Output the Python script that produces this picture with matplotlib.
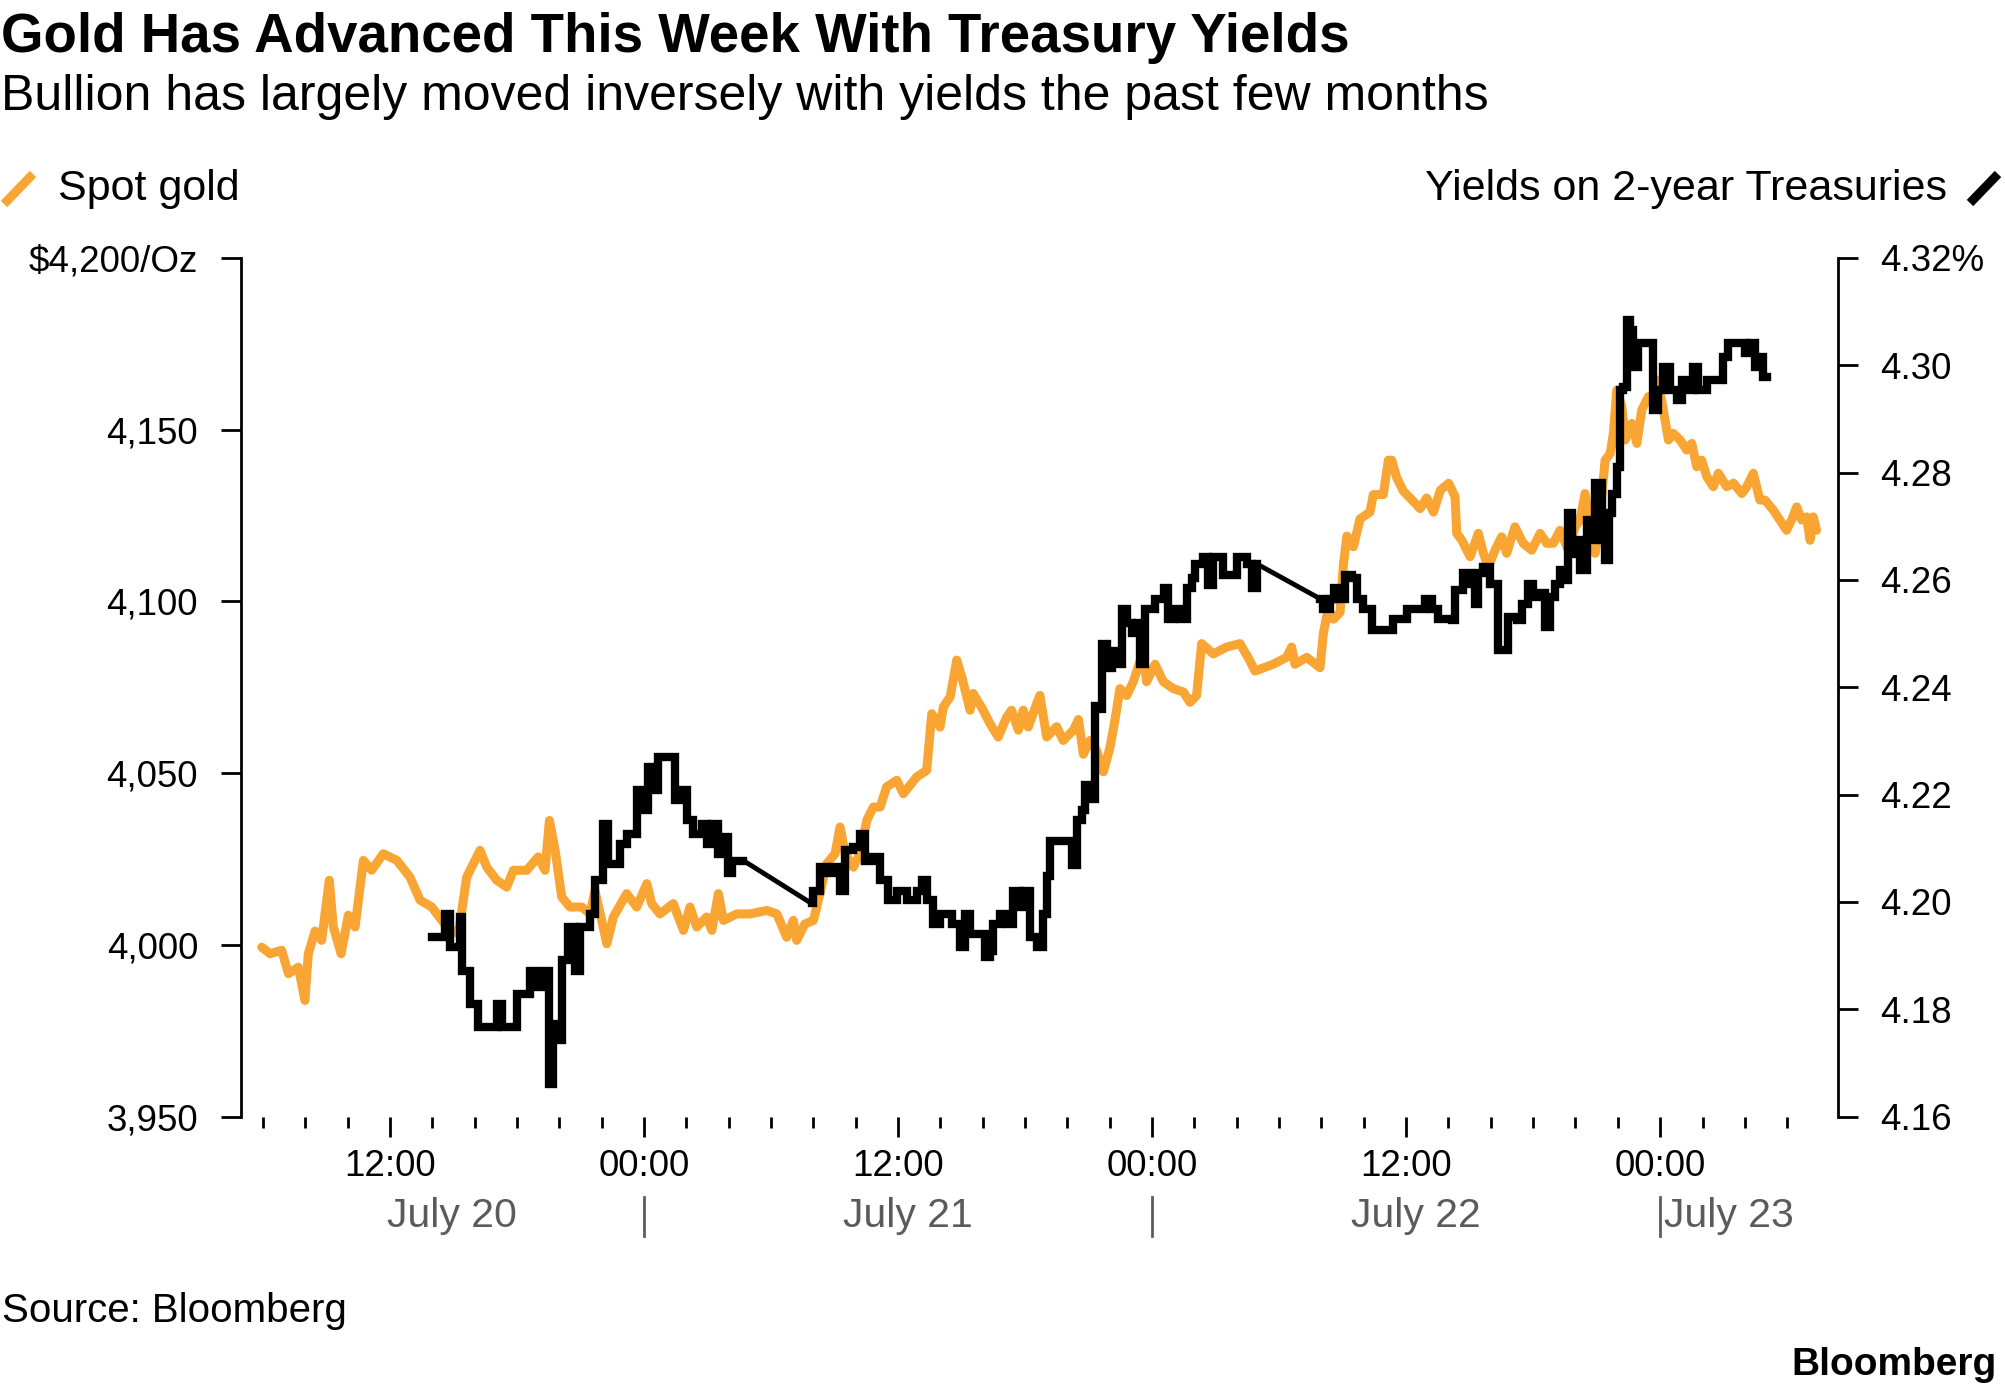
import numpy as np
import matplotlib
matplotlib.use("Agg")
import matplotlib.pyplot as plt
import matplotlib.transforms as mtransforms
from matplotlib.lines import Line2D
from matplotlib.ticker import FixedLocator, FuncFormatter

plt.rcParams['font.family'] = ['Liberation Sans', 'DejaVu Sans']

# x values are hours since July 20, 00:00
gold_hours = [
    5.94, 6.33, 6.88, 7.20, 7.67, 7.98, 8.14, 8.46, 8.77, 9.13, 9.32, 9.69,
    10.03, 10.35, 10.74, 11.13, 11.68, 12.32, 12.94, 13.42, 13.97, 14.68,
    15.23, 15.62, 16.25, 16.57, 17.04, 17.51, 17.83, 18.46, 19.00, 19.32,
    19.53, 19.80, 20.11, 20.50, 21.06, 21.45, 21.68, 22.00, 22.24, 22.55,
    23.18, 23.65, 24.13, 24.36, 24.75, 25.38, 25.86, 26.17, 26.49, 26.96,
    27.20, 27.51, 27.75, 28.38, 29.01, 29.80, 30.27, 30.74, 31.05, 31.21,
    31.60, 32.00, 32.31, 32.63, 33.02, 33.26, 33.50, 33.89, 34.20, 34.52,
    34.83, 35.15, 35.46, 35.94, 36.25, 36.88, 37.35, 37.59, 37.98, 38.14,
    38.46, 38.77, 39.01, 39.40, 39.55, 40.02, 40.34, 40.73, 41.13, 41.36,
    41.68, 41.91, 42.15, 42.55, 42.70, 43.02, 43.49, 43.80, 44.28, 44.52,
    44.75, 45.07, 45.38, 45.70, 46.01, 46.25, 46.48, 46.80, 47.11, 47.43,
    47.58, 47.74, 48.14, 48.53, 49.00, 49.48, 49.79, 50.10, 50.34, 50.89,
    51.52, 52.15, 52.62, 52.86, 53.72, 54.35, 54.59, 54.75, 55.30, 55.93,
    56.09, 56.25, 56.57, 56.88, 57.04, 57.20, 57.51, 57.82, 58.29, 58.45,
    58.92, 59.16, 59.32, 59.55, 59.87, 60.34, 60.66, 60.97, 61.29, 61.62,
    62.01, 62.31, 62.39, 62.63, 63.02, 63.41, 63.65, 63.88, 64.20, 64.51,
    64.75, 65.14, 65.53, 65.93, 66.33, 66.64, 66.95, 67.27, 67.66, 67.98,
    68.22, 68.45, 68.69, 68.93, 69.16, 69.40, 69.64, 69.79, 69.95, 70.19,
    70.35, 70.66, 70.90, 71.13, 71.44, 71.68, 71.84, 72.07, 72.39, 72.62,
    72.94, 73.25, 73.49, 73.73, 73.96, 74.20, 74.51, 74.75, 75.14, 75.46,
    75.86, 76.09, 76.40, 76.71, 76.95, 77.34, 77.97, 78.21, 78.45, 78.68,
    78.92, 79.08, 79.23, 79.39,
]
gold_price = [
    3999.3, 3997.4, 3998.4, 3991.6, 3993.5, 3983.8, 3997.4, 4004.0, 4001.3,
    4018.8, 4005.2, 3997.4, 4008.6, 4005.2, 4024.6, 4021.7, 4026.5, 4024.6,
    4019.7, 4013.0, 4011.0, 4005.2, 4003.2, 4019.7, 4027.5, 4022.6, 4018.8,
    4016.8, 4021.7, 4021.7, 4025.6, 4021.7, 4036.2, 4027.5, 4013.9, 4011.0,
    4011.0, 4009.0, 4015.8, 4007.1, 4000.3, 4008.1, 4014.9, 4011.0, 4017.8,
    4012.0, 4009.0, 4012.0, 4004.2, 4011.0, 4005.2, 4008.1, 4004.2, 4014.9,
    4007.1, 4009.0, 4009.0, 4010.0, 4009.0, 4002.2, 4007.1, 4001.3, 4006.1,
    4007.1, 4014.9, 4023.6, 4026.5, 4034.3, 4026.5, 4022.6, 4026.5, 4036.2,
    4040.1, 4040.1, 4046.0, 4047.9, 4044.0, 4048.9, 4050.8, 4067.3, 4063.4,
    4069.3, 4072.2, 4082.9, 4078.0, 4068.3, 4073.2, 4068.3, 4064.4, 4060.5,
    4066.3, 4068.3, 4062.5, 4068.3, 4063.4, 4070.3, 4072.6, 4060.5, 4063.5,
    4059.5, 4062.5, 4065.6, 4055.5, 4059.5, 4056.5, 4050.4, 4057.5, 4065.6,
    4074.6, 4072.6, 4076.6, 4082.7, 4084.7, 4076.6, 4081.7, 4076.6, 4074.6,
    4073.6, 4070.6, 4072.6, 4087.7, 4084.7, 4086.7, 4087.7, 4082.7, 4079.7,
    4081.7, 4083.7, 4086.7, 4081.7, 4083.7, 4080.7, 4090.7, 4095.8, 4094.8,
    4096.8, 4110.9, 4119.0, 4115.9, 4124.0, 4126.0, 4131.1, 4131.1, 4141.1,
    4141.1, 4136.1, 4132.1, 4129.1, 4127.0, 4130.1, 4126.0, 4132.4, 4134.4,
    4130.5, 4119.8, 4117.8, 4113.0, 4119.8, 4114.0, 4110.1, 4114.9, 4118.8,
    4114.0, 4121.7, 4116.9, 4114.9, 4119.8, 4116.9, 4116.9, 4120.7, 4114.9,
    4121.7, 4123.7, 4131.4, 4123.7, 4114.0, 4125.6, 4141.1, 4143.1, 4148.9,
    4161.5, 4156.7, 4147.0, 4151.8, 4146.0, 4155.7, 4159.6, 4158.6, 4164.5,
    4158.6, 4147.0, 4148.9, 4147.0, 4144.1, 4146.0, 4139.2, 4141.1, 4136.3,
    4133.4, 4137.3, 4133.4, 4134.4, 4131.4, 4133.4, 4137.3, 4129.5, 4129.5,
    4126.6, 4120.7, 4123.7, 4127.5, 4123.7, 4124.6, 4117.8, 4124.6, 4120.7,
]

yield_hours = [
    13.97, 14.60, 14.83, 15.31, 15.39, 15.78, 16.17, 17.04, 17.28, 17.75,
    17.99, 18.61, 18.93, 19.32, 19.53, 19.72, 20.00, 20.11, 20.43, 20.74,
    20.98, 21.45, 21.68, 22.08, 22.31, 22.87, 23.18, 23.65, 24.05, 24.20,
    24.44, 24.68, 25.23, 25.47, 25.78, 26.02, 26.33, 26.72, 26.96, 27.20,
    27.51, 27.75, 27.98, 28.14, 28.69, 31.92, 32.00, 32.31, 32.63, 32.94,
    33.26, 33.50, 33.89, 34.20, 34.44, 34.75, 35.15, 35.54, 35.94, 36.41,
    36.88, 37.12, 37.35, 37.67, 37.98, 38.53, 38.93, 39.16, 39.40, 39.71,
    40.11, 40.34, 40.50, 40.81, 41.13, 41.44, 41.76, 41.91, 42.23, 42.55,
    42.86, 43.02, 43.18, 43.97, 44.20, 44.44, 44.67, 44.83, 45.15, 45.30,
    45.46, 45.62, 45.86, 46.09, 46.33, 46.56, 46.80, 47.04, 47.27, 47.43,
    47.67, 48.14, 48.37, 48.56, 48.77, 49.00, 49.32, 49.63, 49.87, 50.02,
    50.42, 50.65, 50.89, 51.21, 51.36, 51.68, 51.99, 52.31, 52.47, 52.71,
    52.94, 55.93, 56.09, 56.41, 56.57, 56.80, 57.12, 57.44, 57.67, 57.98,
    58.38, 59.09, 59.40, 60.03, 60.66, 60.90, 61.21, 61.52, 62.15, 62.31,
    62.70, 63.02, 63.25, 63.41, 63.65, 63.96, 64.35, 64.59, 64.83, 65.22,
    65.46, 65.77, 66.01, 66.33, 66.56, 66.80, 67.03, 67.27, 67.50, 67.66,
    67.82, 68.06, 68.22, 68.53, 68.77, 68.93, 69.08, 69.24, 69.40, 69.56,
    69.71, 69.95, 70.10, 70.26, 70.42, 70.57, 70.73, 70.97, 71.20, 71.44,
    71.68, 71.91, 72.15, 72.46, 72.78, 73.02, 73.33, 73.57, 73.80, 74.20,
    74.75, 74.98, 75.22, 75.77, 76.00, 76.24, 76.48, 76.71, 76.87, 77.03,
]
yield_pct = [
    4.1934, 4.1978, 4.1916, 4.1972, 4.1872, 4.1810, 4.1767, 4.1810, 4.1767,
    4.1767, 4.1829, 4.1872, 4.1841, 4.1872, 4.1660, 4.1773, 4.1742, 4.1891,
    4.1953, 4.1872, 4.1953, 4.1978, 4.2040, 4.2146, 4.2071, 4.2108, 4.2127,
    4.2208, 4.2171, 4.2251, 4.2208, 4.2270, 4.2270, 4.2189, 4.2208, 4.2152,
    4.2127, 4.2146, 4.2108, 4.2146, 4.2090, 4.2121, 4.2053, 4.2077, 4.2077,
    4.1997, 4.2021, 4.2065, 4.2053, 4.2065, 4.2021, 4.2096, 4.2102, 4.2127,
    4.2077, 4.2084, 4.2040, 4.2003, 4.2021, 4.2003, 4.2021, 4.2040, 4.2003,
    4.1959, 4.1978, 4.1959, 4.1916, 4.1978, 4.1941, 4.1941, 4.1897, 4.1909,
    4.1959, 4.1978, 4.1959, 4.2021, 4.1991, 4.2021, 4.1934, 4.1916, 4.1978,
    4.2049, 4.2114, 4.2114, 4.2069, 4.2153, 4.2172, 4.2217, 4.2191, 4.2365,
    4.2359, 4.2481, 4.2436, 4.2468, 4.2443, 4.2546, 4.2520, 4.2501, 4.2520,
    4.2443, 4.2546, 4.2565, 4.2565, 4.2585, 4.2527, 4.2546, 4.2527, 4.2585,
    4.2604, 4.2630, 4.2643, 4.2591, 4.2643, 4.2643, 4.2610, 4.2610, 4.2643,
    4.2643, 4.2630, 4.2585, 4.2630, 4.2565, 4.2546, 4.2565, 4.2585, 4.2565,
    4.2610, 4.2604, 4.2565, 4.2546, 4.2507, 4.2507, 4.2527, 4.2546, 4.2546,
    4.2565, 4.2546, 4.2527, 4.2525, 4.2581, 4.2612, 4.2593, 4.2556, 4.2612,
    4.2624, 4.2593, 4.2469, 4.2469, 4.2531, 4.2525, 4.2556, 4.2593, 4.2568,
    4.2575, 4.2512, 4.2568, 4.2593, 4.2618, 4.2600, 4.2724, 4.2649, 4.2674,
    4.2618, 4.2711, 4.2674, 4.2780, 4.2780, 4.2674, 4.2637, 4.2724, 4.2761,
    4.2811, 4.2954, 4.2960, 4.3084, 4.3066, 4.2997, 4.3041, 4.3041, 4.3041,
    4.2917, 4.2954, 4.2997, 4.2954, 4.2935, 4.2972, 4.2954, 4.2997, 4.2954,
    4.2972, 4.2972, 4.3016, 4.3041, 4.3041, 4.3022, 4.3041, 4.2997, 4.3016,
    4.2979, 4.2979,
]

gold_ticks = [3950, 4000, 4050, 4100, 4150, 4200]
yield_ticks = [4.16, 4.18, 4.20, 4.22, 4.24, 4.26, 4.28, 4.30, 4.32]
day_names = ["July 20", "July 21", "July 22", "July 23"]
day_starts = [0, 24, 48, 72]

ORANGE = "#F9A533"
GREY = "#5b5b5b"
TICK_FS = 26.5

fig = plt.figure(figsize=(20.05, 13.92), dpi=100)
ax = fig.add_axes([0.1202, 0.1979, 0.7965, 0.6168])
ax2 = ax.twinx()

ax.plot(gold_hours, gold_price, color=ORANGE, lw=6.5, solid_joinstyle="round",
        solid_capstyle="round", zorder=2)

# yields: stepped segments, thin straight line across missing data
yh = np.array(yield_hours)
yv = np.array(yield_pct)
breaks = np.where(np.diff(yh) > 2.5)[0] + 1
for sh, sv in zip(np.split(yh, breaks), np.split(yv, breaks)):
    ax2.plot(sh, sv, color="black", lw=6, drawstyle="steps-post",
             solid_joinstyle="miter")
for i in breaks:
    ax2.plot(yh[i - 1:i + 1], yv[i - 1:i + 1], color="black", lw=3.5)

ax.set_xlim(4.96, 80.4)
ax.set_ylim(3950, 4200)
ax2.set_ylim(4.16, 4.32)

for s in ["top", "bottom", "right"]:
    ax.spines[s].set_visible(False)
for s in ["top", "bottom", "left"]:
    ax2.spines[s].set_visible(False)
ax.spines["left"].set_linewidth(2)
ax2.spines["right"].set_linewidth(2)

ax.yaxis.set_major_locator(FixedLocator(gold_ticks))
ax.yaxis.set_major_formatter(FuncFormatter(
    lambda v, p: "$4,200/Oz" if v == gold_ticks[-1] else f"{v:,.0f}"))
ax2.yaxis.set_major_locator(FixedLocator(yield_ticks))
ax2.yaxis.set_major_formatter(FuncFormatter(
    lambda v, p: f"{v:.2f}%" if abs(v - yield_ticks[-1]) < 1e-9 else f"{v:.2f}"))
ax.tick_params(axis="y", length=14.4, width=2, pad=16.5, labelsize=TICK_FS)
ax2.tick_params(axis="y", length=14.4, width=2, pad=16, labelsize=TICK_FS)

major_x = [12, 24, 36, 48, 60, 72]
minor_x = [h for h in range(6, 80, 2) if h not in major_x]
ax.xaxis.set_major_locator(FixedLocator(major_x))
ax.xaxis.set_minor_locator(FixedLocator(minor_x))
ax.xaxis.set_major_formatter(FuncFormatter(lambda v, p: f"{int(v) % 24:02d}:00"))
ax.tick_params(axis="x", which="major", length=14.4, width=2, pad=9,
               labelsize=TICK_FS)
ax.tick_params(axis="x", which="minor", length=8, width=2)
for t in ax.xaxis.get_major_ticks():
    if int(t.get_loc()) % 24 == 0:
        t.tick1line.set_color(GREY)

# day labels under the hour labels
trans = mtransforms.blended_transform_factory(ax.transData, ax.transAxes)
x0, x1 = ax.get_xlim()
for name, start in zip(day_names, day_starts):
    if start > 0:
        ax.add_line(Line2D([start, start], [-0.094, -0.139], transform=trans,
                           color=GREY, lw=2, clip_on=False))
    lo, hi = max(start, x0), min(start + 24, x1)
    if hi - lo < 12:
        ax.text(start + 0.2, -0.1287, name, transform=trans, ha="left",
                va="baseline", fontsize=29.5, color=GREY)
    else:
        ax.text((lo + hi) / 2 + 0.45, -0.1287, name, transform=trans,
                ha="center", va="baseline", fontsize=29.5, color=GREY)

# titles and legend
W, H = 2005, 1392
fig.text(1 / W, 1 - 52 / H, "Gold Has Advanced This Week With Treasury Yields",
         fontsize=39.3, fontweight="bold", ha="left", va="baseline")
fig.text(1 / W, 1 - 110 / H,
         "Bullion has largely moved inversely with yields the past few months",
         fontsize=36, ha="left", va="baseline")
fig.add_artist(Line2D([4 / W, 33 / W], [1 - 204 / H, 1 - 174 / H],
                      color=ORANGE, lw=6.5, solid_capstyle="butt"))
fig.text(58 / W, 1 - 200 / H, "Spot gold", fontsize=31, ha="left",
         va="baseline")
fig.text(1947 / W, 1 - 200 / H, "Yields on 2-year Treasuries", fontsize=31,
         ha="right", va="baseline")
fig.add_artist(Line2D([1970 / W, 1998 / W], [1 - 203 / H, 1 - 174 / H],
                      color="black", lw=6.5, solid_capstyle="butt"))
fig.text(2 / W, 1 - 1322 / H, "Source: Bloomberg", fontsize=29, ha="left",
         va="baseline")
fig.text(1997 / W, 1 - 1375 / H, "Bloomberg", fontsize=28, fontweight="bold",
         ha="right", va="baseline")

fig.savefig("out.png", dpi=100)
